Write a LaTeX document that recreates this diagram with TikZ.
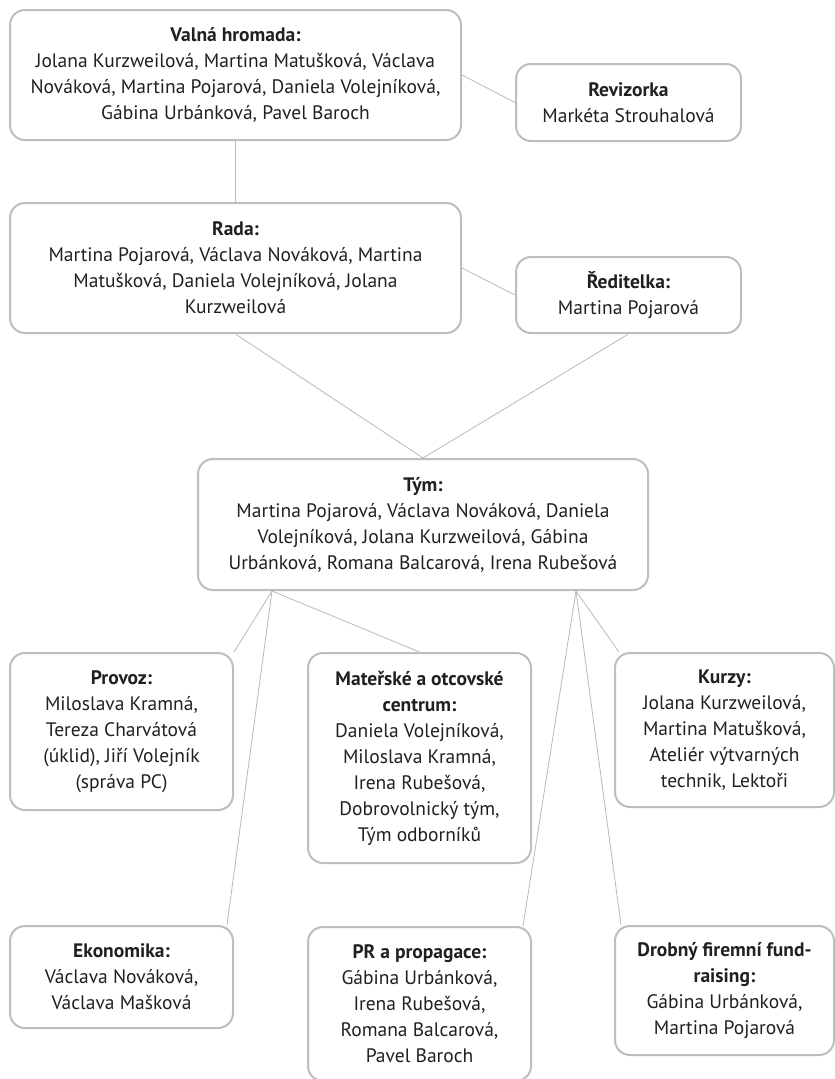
\documentclass[tikz,border=0pt]{standalone}
\usepackage{fontspec}
\setmainfont{PT Sans}
\usetikzlibrary{calc,backgrounds}

\begin{document}
\begin{tikzpicture}[x=1pt,y=-1pt,
	box/.style={draw=boxgray,line width=2pt,rounded corners=15pt,fill=white,align=center,inner sep=0pt,text=textgray,font=\fontsize{19.5}{26}\selectfont},
	link/.style={draw=linegray,line width=0.8pt}]
	\definecolor{boxgray}{RGB}{190,190,190}
	\definecolor{linegray}{RGB}{185,185,185}
	\definecolor{textgray}{RGB}{35,31,32}
	\useasboundingbox (0,0) rectangle (835,1079);

	\node (valna) at (235.5,75) [box,minimum width=451pt,minimum height=130pt] {\textbf{Valná hromada:}\\Jolana Kurzweilová, Martina Matušková, Václava\\Nováková, Martina Pojarová, Daniela Volejníková,\\Gábina Urbánková, Pavel Baroch};
	\node (reviz) at (628.5,102.5) [box,minimum width=225pt,minimum height=77pt] {\textbf{Revizorka}\\Markéta Strouhalová};
	\node (rada) at (235.5,268) [box,minimum width=451pt,minimum height=130pt] {\textbf{Rada:}\\Martina Pojarová, Václava Nováková, Martina\\Matušková, Daniela Volejníková, Jolana\\Kurzweilová};
	\node (redit) at (628.5,295) [box,minimum width=225pt,minimum height=76pt] {\textbf{Ředitelka:}\\Martina Pojarová};
	\node (tym) at (423,524.5) [box,minimum width=450pt,minimum height=131pt] {\textbf{Tým:}\\Martina Pojarová, Václava Nováková, Daniela\\Volejníková, Jolana Kurzweilová, Gábina\\Urbánková, Romana Balcarová, Irena Rubešová};

	\node (provoz) at (121.5,731.5) [box,minimum width=223pt,minimum height=157pt] {\textbf{Provoz:}\\Miloslava Kramná,\\Tereza Charvátová\\(úklid), Jiří Volejník\\(správa PC)};
	\node (materske) at (419.5,758) [box,minimum width=223pt,minimum height=210pt] {\textbf{Mateřské a otcovské}\\\textbf{centrum:}\\Daniela Volejníková,\\Miloslava Kramná,\\Irena Rubešová,\\Dobrovolnický tým,\\Tým odborníků};
	\node (kurzy) at (724.5,730) [box,minimum width=219pt,minimum height=154pt] {\textbf{Kurzy:}\\Jolana Kurzweilová,\\Martina Matušková,\\Ateliér výtvarných\\technik, Lektoři};

	\node (ekonomika) at (121.5,977) [box,minimum width=223pt,minimum height=102pt] {\textbf{Ekonomika:}\\Václava Nováková,\\Václava Mašková};
	\node (pr) at (419.5,1004) [box,minimum width=223pt,minimum height=154pt] {\textbf{PR a propagace:}\\Gábina Urbánková,\\Irena Rubešová,\\Romana Balcarová,\\Pavel Baroch};
	\node (drobny) at (724.5,990.5) [box,minimum width=219pt,minimum height=129pt] {\textbf{Drobný firemní fund-}\\\textbf{raising:}\\Gábina Urbánková,\\Martina Pojarová};

	\coordinate (tl) at ($(tym.south)+(-151,0)$);
	\coordinate (tr) at ($(tym.south)+(153,0)$);

	\begin{scope}[on background layer]
		\draw[link] (valna.south) -- (rada.north);
		\draw[link] (valna.east) -- (reviz.west);
		\draw[link] (rada.east) -- (redit.west);
		\draw[link] (rada.south) -- (tym.north);
		\draw[link] (redit.south) -- (tym.north);
		\draw[link] (tl) -- (provoz.north east);
		\draw[link] (tl) -- ($(ekonomika.north east)+(-7,0)$);
		\draw[link] (tl) -- (materske.north);
		\draw[link] (tr) -- ($(kurzy.north west)+(5,0)$);
		\draw[link] (tr) -- ($(drobny.north west)+(7,0)$);
		\draw[link] (tr) -- ($(pr.north east)+(-9,0)$);
	\end{scope}
\end{tikzpicture}
\end{document}
